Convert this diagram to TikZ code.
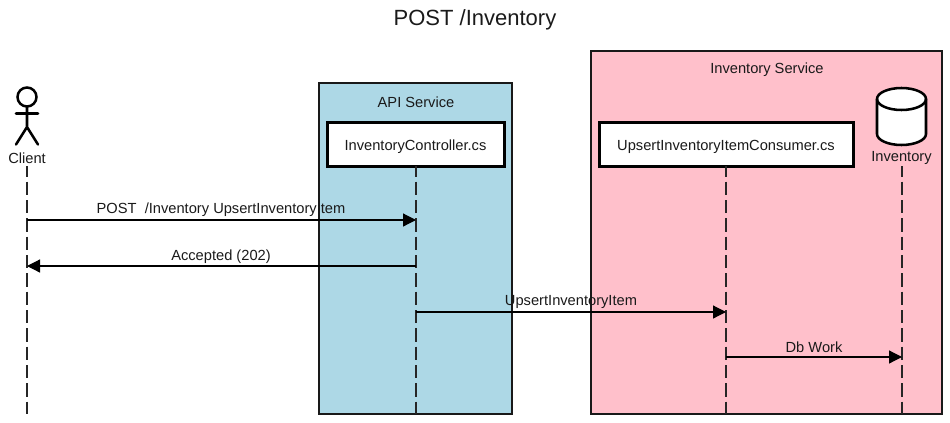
\documentclass[tikz,border=0pt]{standalone}
\usepackage{fontspec}
\setmainfont{Liberation Sans}
\usetikzlibrary{arrows.meta}
\definecolor{apiblue}{HTML}{ADD8E6}
\definecolor{invpink}{HTML}{FFC0CB}
\definecolor{txt}{HTML}{1A1A1A}
\tikzset{
  groupbox/.style={draw=black!90,line width=1.1pt,inner sep=0pt,outer sep=0pt,anchor=north west},
  classbox/.style={draw=black,fill=white,line width=2.25pt,inner sep=0pt,outer sep=0pt,text height=9pt,text depth=0pt,font=\fontsize{11}{13}\selectfont,text=txt},
  lbl/.style={font=\fontsize{11}{13}\selectfont,text=txt,inner sep=0pt},
  lifeline/.style={draw=black!85,line width=0.9pt,dash pattern=on 10pt off 3.75pt,dash phase=2pt},
  msg/.style={draw=black,line width=0.9pt,-{Triangle[length=9.75pt,width=9.75pt]}},
  figure/.style={draw=black,line width=1.9pt,line cap=round}
}
\begin{document}
\begin{tikzpicture}[x=0.75pt,y=-0.75pt]
\useasboundingbox (0,0) rectangle (950,422);
\node[lbl,font=\fontsize{16.5}{20}\selectfont] (title) at (475,19.5) {POST /Inventory};
% group boxes
\node[groupbox,fill=apiblue,minimum width=144.75pt,minimum height=248.25pt] (api) at (319,83) {};
\node[groupbox,fill=invpink,minimum width=263.25pt,minimum height=272.25pt] (inv) at (591,51) {};
\node[lbl] (apit) at (416,102.5) {API Service};
\node[lbl] (invt) at (767,70) {Inventory Service};
% participants
\node[classbox,minimum width=132.75pt,minimum height=33pt] (ctrl) at (415.5,144) {InventoryController.cs};
\node[classbox,minimum width=190.5pt,minimum height=33pt] (cons) at (726,144) {UpsertInventoryItemConsumer.cs};
\node[lbl] (client) at (27,158) {Client};
\node[lbl] (dbl) at (901.5,158) {Inventory};
% actor
\draw[figure] (27,97) circle[radius=9.5];
\draw[figure] (27,106.5) -- (27,127) (16,113.5) -- (38,113.5) (16,144.5) -- (27,127) -- (38,144.5);
% cylinder
\draw[figure,fill=white] (877,99) -- (877,134) arc[start angle=180,end angle=0,x radius=24.5,y radius=11] -- (926,99) arc[start angle=0,end angle=-180,x radius=24.5,y radius=11] -- cycle;
\draw[figure] (877,99) arc[start angle=180,end angle=0,x radius=24.5,y radius=11];
% lifeline ends
\coordinate (cf) at (27,414);
\coordinate (af) at (416,414);
\coordinate (uf) at (726,414);
\coordinate (df) at (902,414);
\coordinate (cs) at (27,166);
\coordinate (ds) at (902,166);
\draw[lifeline] (cs) -- (cf);
\draw[lifeline] (ctrl.south -| af) -- (af);
\draw[lifeline] (cons.south -| uf) -- (uf);
\draw[lifeline] (ds) -- (df);
% messages
\coordinate (m1a) at (27,220);  \coordinate (m1b) at (416,220);
\coordinate (m2a) at (416,266); \coordinate (m2b) at (27,266);
\coordinate (m3a) at (416,312); \coordinate (m3b) at (726,312);
\coordinate (m4a) at (726,357); \coordinate (m4b) at (902,357);
\draw[msg] (m1a) -- (m1b);
\draw[msg] (m2a) -- (m2b);
\draw[msg] (m3a) -- (m3b);
\draw[msg] (m4a) -- (m4b);
\node[lbl] (l1) at (221,210) {POST\ \ /Inventory UpsertInventoryItem};
\node[lbl] (l2) at (221,256.5) {Accepted (202)};
\node[lbl] (l3) at (571,302) {UpsertInventoryItem};
\node[lbl] (l4) at (814,347) {Db Work};
\end{tikzpicture}
\end{document}
